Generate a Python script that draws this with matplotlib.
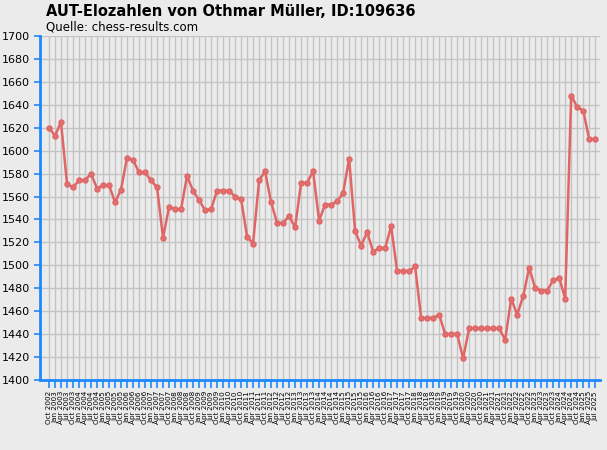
import matplotlib
matplotlib.use("Agg")
import matplotlib.pyplot as plt

elo = [1620,1613,1625,1571,1568,1574,1574,1580,1567,1570,1570,1555,1566,1594,1592,1581,1581,1574,1568,1524,
       1551,1549,1549,1578,1565,1557,1548,1549,1565,1565,1565,1560,
       1558,1525,1519,1574,1582,1555,1537,1537,1543,1533,1572,1572,1582,1539,1553,1553,1556,1563,1593,1530,
       1517,1529,1512,1515,1515,1534,1495,1495,1495,1499,1454,1454,
       1454,1457,1440,1440,1440,1419,1445,1445,1445,1445,1445,1445,1435,1471,1457,1473,1498,1480,1478,1478,
       1487,1489,1471,1648,1638,1635,1610,1610]
months = ["Jan", "Apr", "Jul", "Oct"]
labels = []
y, q = 2002, 3
for _ in elo:
    labels.append(f"{months[q]} {y}")
    q += 1
    if q == 4:
        q, y = 0, y + 1

bg = "#ebebeb"
fig = plt.figure(figsize=(6.07, 4.5), dpi=100, facecolor=bg)
ax = fig.add_axes([40/607, 70/450, 560/607, 344/450], facecolor=bg)
x = list(range(len(elo)))
ax.plot(x, elo, color="#e06666", lw=1.8, marker="o", ms=3.6, mfc="#e07070", mec="#e06666", zorder=3)
ax.set_xlim(-1.5, 91.8)
ax.set_ylim(1400, 1700)
ax.set_yticks(range(1400, 1701, 20))
ax.set_xticks(x)
ax.set_xticklabels(labels, rotation=90, fontsize=5.2)
ax.tick_params(axis="y", labelsize=8, color="#1e88ff", length=4, width=1.2)
ax.tick_params(axis="x", color="#1e88ff", length=6, width=1.2, pad=2)
ax.grid(True, color="#c4c4c4", lw=1)
ax.set_axisbelow(True)
for s in ["top", "right"]:
    ax.spines[s].set_visible(False)
for s in ["left", "bottom"]:
    ax.spines[s].set_color("#1e88ff")
    ax.spines[s].set_linewidth(2)
fig.text(46/607, 1-11/450, "AUT-Elozahlen von Othmar Müller, ID:109636", fontsize=10.5,
         fontweight="bold", va="center", ha="left")
fig.text(46/607, 1-27/450, "Quelle: chess-results.com", fontsize=8.5, va="center", ha="left")
fig.savefig("out.png", dpi=100, facecolor=bg)
